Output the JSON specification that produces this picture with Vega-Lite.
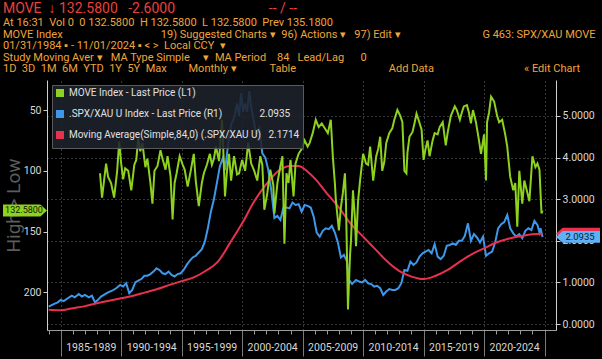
{
  "$schema": "https://vega.github.io/schema/vega-lite/v6.json",
  "width": 509,
  "height": 250,
  "autosize": {"type": "none"},
  "padding": {"left": 47, "top": 80, "right": 46, "bottom": 29},
  "background": "#000000",
  "config": {
    "view": {"stroke": null},
    "font": "Liberation Sans Narrow, Roboto, sans-serif",
    "legend": {
      "title": null,
      "orient": "top-left",
      "offset": 5,
      "fillColor": "rgba(30,34,44,0.88)",
      "strokeColor": "#5a5a5a",
      "padding": 3,
      "rowPadding": 1,
      "symbolType": "square",
      "symbolSize": 16,
      "symbolStrokeWidth": 4,
      "labelColor": "#e0e0e0",
      "labelFontSize": 10,
      "labelLimit": 400
    }
  },
  "title": {
    "text": "MOVE\u00a0\u00a0↓ 132.5800\u00a0\u00a0\u00a0-2.6000\u00a0\u00a0\u00a0\u00a0\u00a0\u00a0\u00a0\u00a0\u00a0\u00a0\u00a0\u00a0\u00a0\u00a0\u00a0\u00a0\u00a0\u00a0\u00a0\u00a0\u00a0\u00a0\u00a0\u00a0\u00a0\u00a0\u00a0-- / --",
    "subtitle": [
      "\u00a0\u00a0At 16:31\u00a0\u00a0Vol 0\u00a0\u00a00 132.5800\u00a0\u00a0H 132.5800\u00a0\u00a0L 132.5800\u00a0\u00a0Prev 135.1800",
      "MOVE Index\u00a0\u00a0\u00a0\u00a0\u00a0\u00a0\u00a0\u00a0\u00a0\u00a0\u00a0\u00a0\u00a0\u00a0\u00a0\u00a0\u00a0\u00a0\u00a0\u00a0\u00a0\u00a0\u00a0\u00a0\u00a0\u00a0\u00a0\u00a0\u00a0\u00a0\u00a0\u00a0\u00a0\u00a0\u00a0\u00a019) Suggested Charts ▾\u00a0\u00a096) Actions ▾\u00a0\u00a0\u00a097) Edit ▾\u00a0\u00a0\u00a0\u00a0\u00a0\u00a0\u00a0\u00a0\u00a0\u00a0\u00a0\u00a0\u00a0\u00a0\u00a0\u00a0\u00a0\u00a0\u00a0\u00a0\u00a0\u00a0\u00a0\u00a0\u00a0\u00a0\u00a0\u00a0\u00a0\u00a0G 463: SPX/XAU MOVE",
      "01/31/1984 ▪ - 11/01/2024 ▪ < >\u00a0\u00a0Local CCY\u00a0\u00a0▾",
      "Study\u00a0Moving Aver ▾\u00a0\u00a0\u00a0MA Type\u00a0Simple\u00a0\u00a0\u00a0\u00a0\u00a0▾\u00a0\u00a0MA Period\u00a0\u00a0\u00a0\u00a084\u00a0\u00a0\u00a0Lead/Lag\u00a0\u00a0\u00a0\u00a0\u00a0\u00a00",
      "1D\u00a0\u00a03D\u00a0\u00a01M\u00a0\u00a06M\u00a0\u00a0YTD\u00a0\u00a01Y\u00a0\u00a05Y\u00a0\u00a0Max\u00a0\u00a0\u00a0\u00a0\u00a0\u00a0\u00a0\u00a0Monthly ▾\u00a0\u00a0\u00a0\u00a0\u00a0\u00a0\u00a0\u00a0\u00a0\u00a0\u00a0\u00a0Table\u00a0\u00a0\u00a0\u00a0\u00a0\u00a0\u00a0\u00a0\u00a0\u00a0\u00a0\u00a0\u00a0\u00a0\u00a0\u00a0\u00a0\u00a0\u00a0\u00a0\u00a0\u00a0\u00a0\u00a0\u00a0\u00a0\u00a0\u00a0\u00a0\u00a0\u00a0\u00a0\u00a0\u00a0Add Data\u00a0\u00a0\u00a0\u00a0\u00a0\u00a0\u00a0\u00a0\u00a0\u00a0\u00a0\u00a0\u00a0\u00a0\u00a0\u00a0\u00a0\u00a0\u00a0\u00a0\u00a0\u00a0\u00a0\u00a0\u00a0\u00a0\u00a0\u00a0\u00a0\u00a0\u00a0\u00a0\u00a0« Edit Chart"
    ],
    "anchor": "start",
    "frame": "group",
    "dx": -44,
    "offset": 6,
    "limit": 600,
    "fontSize": 14,
    "fontWeight": "normal",
    "color": "#e8413c",
    "subtitleFontSize": 11,
    "subtitleColor": "#f0a43a",
    "subtitleLineHeight": 11.5,
    "subtitlePadding": 1
  },
  "datasets": {
    "move": [
      {"d": "1988-04", "v": 102}, {"d": "1988-06", "v": 122}, {"d": "1988-08", "v": 108}, {"d": "1988-10", "v": 94}, {"d": "1988-12", "v": 105},
      {"d": "1989-03", "v": 110}, {"d": "1989-06", "v": 122}, {"d": "1989-09", "v": 100}, {"d": "1989-11", "v": 76},
      {"d": "1990-01", "v": 94}, {"d": "1990-03", "v": 107}, {"d": "1990-05", "v": 98}, {"d": "1990-08", "v": 100}, {"d": "1990-11", "v": 116},
      {"d": "1991-02", "v": 95}, {"d": "1991-04", "v": 91}, {"d": "1991-06", "v": 73}, {"d": "1991-08", "v": 84}, {"d": "1991-10", "v": 77},
      {"d": "1992-01", "v": 97}, {"d": "1992-03", "v": 90}, {"d": "1992-06", "v": 110}, {"d": "1992-08", "v": 127}, {"d": "1992-10", "v": 100},
      {"d": "1993-01", "v": 96}, {"d": "1993-04", "v": 83}, {"d": "1993-06", "v": 90}, {"d": "1993-09", "v": 99}, {"d": "1993-11", "v": 88},
      {"d": "1994-02", "v": 105}, {"d": "1994-04", "v": 140}, {"d": "1994-06", "v": 110}, {"d": "1994-08", "v": 102}, {"d": "1994-11", "v": 88},
      {"d": "1995-02", "v": 95}, {"d": "1995-04", "v": 99}, {"d": "1995-07", "v": 113}, {"d": "1995-10", "v": 100},
      {"d": "1996-01", "v": 86}, {"d": "1996-03", "v": 108}, {"d": "1996-06", "v": 129}, {"d": "1996-09", "v": 110}, {"d": "1996-11", "v": 102},
      {"d": "1997-02", "v": 95}, {"d": "1997-05", "v": 86}, {"d": "1997-07", "v": 95}, {"d": "1997-09", "v": 90}, {"d": "1997-11", "v": 80},
      {"d": "1998-02", "v": 92}, {"d": "1998-05", "v": 58}, {"d": "1998-06", "v": 75}, {"d": "1998-08", "v": 121}, {"d": "1998-10", "v": 100}, {"d": "1998-12", "v": 86},
      {"d": "1999-02", "v": 108}, {"d": "1999-05", "v": 88}, {"d": "1999-08", "v": 103}, {"d": "1999-10", "v": 102},
      {"d": "2000-01", "v": 91}, {"d": "2000-04", "v": 100}, {"d": "2000-07", "v": 77}, {"d": "2000-10", "v": 94},
      {"d": "2001-01", "v": 100}, {"d": "2001-04", "v": 108}, {"d": "2001-07", "v": 88}, {"d": "2001-09", "v": 95}, {"d": "2001-11", "v": 132},
      {"d": "2002-02", "v": 118}, {"d": "2002-05", "v": 99}, {"d": "2002-08", "v": 112}, {"d": "2002-09", "v": 135}, {"d": "2002-12", "v": 110},
      {"d": "2003-03", "v": 96}, {"d": "2003-05", "v": 88}, {"d": "2003-07", "v": 160}, {"d": "2003-09", "v": 102}, {"d": "2003-11", "v": 110},
      {"d": "2004-01", "v": 91}, {"d": "2004-04", "v": 121}, {"d": "2004-06", "v": 94}, {"d": "2004-09", "v": 86}, {"d": "2004-12", "v": 82},
      {"d": "2005-03", "v": 75}, {"d": "2005-06", "v": 80}, {"d": "2005-08", "v": 77}, {"d": "2005-11", "v": 69},
      {"d": "2006-02", "v": 58}, {"d": "2006-05", "v": 64}, {"d": "2006-08", "v": 61}, {"d": "2006-11", "v": 65},
      {"d": "2007-02", "v": 69}, {"d": "2007-05", "v": 58}, {"d": "2007-07", "v": 88}, {"d": "2007-09", "v": 110}, {"d": "2007-10", "v": 124},
      {"d": "2008-01", "v": 149}, {"d": "2008-03", "v": 130}, {"d": "2008-05", "v": 118}, {"d": "2008-07", "v": 102}, {"d": "2008-08", "v": 125}, {"d": "2008-10", "v": 214}, {"d": "2008-12", "v": 170},
      {"d": "2009-01", "v": 157}, {"d": "2009-03", "v": 116}, {"d": "2009-05", "v": 140}, {"d": "2009-06", "v": 162}, {"d": "2009-08", "v": 125}, {"d": "2009-10", "v": 108},
      {"d": "2010-01", "v": 86}, {"d": "2010-04", "v": 94}, {"d": "2010-06", "v": 95}, {"d": "2010-08", "v": 80}, {"d": "2010-11", "v": 108},
      {"d": "2011-02", "v": 88}, {"d": "2011-04", "v": 82}, {"d": "2011-06", "v": 72}, {"d": "2011-08", "v": 100}, {"d": "2011-10", "v": 93}, {"d": "2011-12", "v": 77},
      {"d": "2012-03", "v": 69}, {"d": "2012-06", "v": 65}, {"d": "2012-08", "v": 58}, {"d": "2012-11", "v": 50},
      {"d": "2013-02", "v": 55}, {"d": "2013-04", "v": 60}, {"d": "2013-06", "v": 100}, {"d": "2013-08", "v": 102}, {"d": "2013-09", "v": 85}, {"d": "2013-11", "v": 72},
      {"d": "2014-02", "v": 68}, {"d": "2014-04", "v": 61}, {"d": "2014-06", "v": 53}, {"d": "2014-08", "v": 58}, {"d": "2014-11", "v": 66},
      {"d": "2015-01", "v": 91}, {"d": "2015-03", "v": 82}, {"d": "2015-05", "v": 75}, {"d": "2015-07", "v": 88}, {"d": "2015-10", "v": 75}, {"d": "2015-12", "v": 69},
      {"d": "2016-03", "v": 70}, {"d": "2016-05", "v": 64}, {"d": "2016-08", "v": 60}, {"d": "2016-11", "v": 79},
      {"d": "2017-01", "v": 68}, {"d": "2017-04", "v": 55}, {"d": "2017-08", "v": 47}, {"d": "2017-10", "v": 50},
      {"d": "2018-01", "v": 58}, {"d": "2018-03", "v": 52}, {"d": "2018-05", "v": 47}, {"d": "2018-08", "v": 46}, {"d": "2018-10", "v": 52}, {"d": "2018-12", "v": 61},
      {"d": "2019-02", "v": 50}, {"d": "2019-05", "v": 60}, {"d": "2019-08", "v": 75}, {"d": "2019-10", "v": 86},
      {"d": "2020-01", "v": 70}, {"d": "2020-03", "v": 108}, {"d": "2020-04", "v": 60}, {"d": "2020-06", "v": 52}, {"d": "2020-08", "v": 39}, {"d": "2020-11", "v": 43},
      {"d": "2021-02", "v": 55}, {"d": "2021-04", "v": 60}, {"d": "2021-07", "v": 58}, {"d": "2021-10", "v": 70}, {"d": "2021-12", "v": 80},
      {"d": "2022-03", "v": 105}, {"d": "2022-06", "v": 116}, {"d": "2022-08", "v": 110}, {"d": "2022-10", "v": 146}, {"d": "2022-12", "v": 100},
      {"d": "2023-03", "v": 127}, {"d": "2023-05", "v": 108}, {"d": "2023-08", "v": 118}, {"d": "2023-10", "v": 125},
      {"d": "2024-01", "v": 88}, {"d": "2024-04", "v": 97}, {"d": "2024-06", "v": 94}, {"d": "2024-08", "v": 99}, {"d": "2024-10", "v": 135}, {"d": "2024-11", "v": 132.58}
    ],
    "spx": [
      {"d": "1984-01", "v": 0.42}, {"d": "1984-06", "v": 0.48}, {"d": "1984-10", "v": 0.52},
      {"d": "1985-01", "v": 0.58}, {"d": "1985-04", "v": 0.55}, {"d": "1985-08", "v": 0.62}, {"d": "1985-12", "v": 0.68},
      {"d": "1986-03", "v": 0.64}, {"d": "1986-07", "v": 0.72}, {"d": "1986-10", "v": 0.66},
      {"d": "1987-01", "v": 0.70}, {"d": "1987-05", "v": 0.64}, {"d": "1987-08", "v": 0.68}, {"d": "1987-11", "v": 0.52},
      {"d": "1988-02", "v": 0.58}, {"d": "1988-05", "v": 0.66}, {"d": "1988-09", "v": 0.72}, {"d": "1988-12", "v": 0.76},
      {"d": "1989-04", "v": 0.80}, {"d": "1989-08", "v": 0.86}, {"d": "1989-12", "v": 0.94},
      {"d": "1990-03", "v": 0.90}, {"d": "1990-06", "v": 0.98}, {"d": "1990-09", "v": 0.74}, {"d": "1990-12", "v": 0.82},
      {"d": "1991-03", "v": 1.00}, {"d": "1991-06", "v": 1.04}, {"d": "1991-09", "v": 1.08}, {"d": "1991-12", "v": 1.16},
      {"d": "1992-03", "v": 1.16}, {"d": "1992-06", "v": 1.20}, {"d": "1992-09", "v": 1.26}, {"d": "1992-12", "v": 1.34},
      {"d": "1993-03", "v": 1.30}, {"d": "1993-06", "v": 1.22}, {"d": "1993-09", "v": 1.20}, {"d": "1993-12", "v": 1.26},
      {"d": "1994-03", "v": 1.18}, {"d": "1994-06", "v": 1.14}, {"d": "1994-09", "v": 1.20}, {"d": "1994-12", "v": 1.22},
      {"d": "1995-03", "v": 1.30}, {"d": "1995-06", "v": 1.42}, {"d": "1995-09", "v": 1.52}, {"d": "1995-12", "v": 1.60},
      {"d": "1996-03", "v": 1.64}, {"d": "1996-06", "v": 1.72}, {"d": "1996-09", "v": 1.80}, {"d": "1996-12", "v": 1.98},
      {"d": "1997-03", "v": 2.30}, {"d": "1997-06", "v": 2.70}, {"d": "1997-09", "v": 3.00}, {"d": "1997-12", "v": 3.40},
      {"d": "1998-03", "v": 3.80}, {"d": "1998-06", "v": 4.00}, {"d": "1998-08", "v": 3.70}, {"d": "1998-11", "v": 4.30},
      {"d": "1999-02", "v": 4.80}, {"d": "1999-05", "v": 4.95}, {"d": "1999-08", "v": 5.30}, {"d": "1999-10", "v": 5.00}, {"d": "1999-12", "v": 5.55},
      {"d": "2000-02", "v": 5.10}, {"d": "2000-04", "v": 5.30}, {"d": "2000-06", "v": 5.10}, {"d": "2000-08", "v": 5.60}, {"d": "2000-10", "v": 5.20}, {"d": "2000-12", "v": 4.95},
      {"d": "2001-03", "v": 4.55}, {"d": "2001-06", "v": 4.70}, {"d": "2001-09", "v": 4.10}, {"d": "2001-12", "v": 4.00},
      {"d": "2002-03", "v": 3.70}, {"d": "2002-06", "v": 3.20}, {"d": "2002-09", "v": 2.55}, {"d": "2002-12", "v": 2.60},
      {"d": "2003-03", "v": 2.50}, {"d": "2003-06", "v": 2.80}, {"d": "2003-09", "v": 2.80}, {"d": "2003-12", "v": 2.78},
      {"d": "2004-03", "v": 2.92}, {"d": "2004-06", "v": 2.86}, {"d": "2004-09", "v": 2.88}, {"d": "2004-12", "v": 2.70},
      {"d": "2005-03", "v": 2.86}, {"d": "2005-06", "v": 2.84}, {"d": "2005-09", "v": 2.80}, {"d": "2005-12", "v": 2.58},
      {"d": "2006-03", "v": 2.20}, {"d": "2006-06", "v": 2.10}, {"d": "2006-09", "v": 2.24}, {"d": "2006-12", "v": 2.30},
      {"d": "2007-03", "v": 2.28}, {"d": "2007-06", "v": 2.36}, {"d": "2007-09", "v": 2.20}, {"d": "2007-12", "v": 1.96},
      {"d": "2008-03", "v": 1.60}, {"d": "2008-06", "v": 1.66}, {"d": "2008-09", "v": 1.50}, {"d": "2008-11", "v": 1.06},
      {"d": "2009-02", "v": 0.96}, {"d": "2009-06", "v": 1.06}, {"d": "2009-09", "v": 1.02}, {"d": "2009-12", "v": 1.00},
      {"d": "2010-03", "v": 1.06}, {"d": "2010-06", "v": 0.98}, {"d": "2010-09", "v": 0.96}, {"d": "2010-12", "v": 0.90},
      {"d": "2011-03", "v": 0.92}, {"d": "2011-06", "v": 0.86}, {"d": "2011-09", "v": 0.70}, {"d": "2011-12", "v": 0.78},
      {"d": "2012-03", "v": 0.84}, {"d": "2012-06", "v": 0.82}, {"d": "2012-09", "v": 0.82}, {"d": "2012-12", "v": 0.86},
      {"d": "2013-03", "v": 0.98}, {"d": "2013-06", "v": 1.30}, {"d": "2013-09", "v": 1.28}, {"d": "2013-12", "v": 1.50},
      {"d": "2014-03", "v": 1.42}, {"d": "2014-06", "v": 1.48}, {"d": "2014-09", "v": 1.62}, {"d": "2014-12", "v": 1.70},
      {"d": "2015-03", "v": 1.74}, {"d": "2015-06", "v": 1.78}, {"d": "2015-09", "v": 1.70}, {"d": "2015-12", "v": 1.92},
      {"d": "2016-03", "v": 1.62}, {"d": "2016-06", "v": 1.56}, {"d": "2016-09", "v": 1.64}, {"d": "2016-12", "v": 1.88},
      {"d": "2017-03", "v": 1.90}, {"d": "2017-06", "v": 1.94}, {"d": "2017-09", "v": 1.90}, {"d": "2017-12", "v": 2.00},
      {"d": "2018-03", "v": 2.00}, {"d": "2018-06", "v": 2.12}, {"d": "2018-09", "v": 2.42}, {"d": "2018-12", "v": 2.00},
      {"d": "2019-03", "v": 2.16}, {"d": "2019-06", "v": 2.08}, {"d": "2019-09", "v": 1.96}, {"d": "2019-12", "v": 2.10},
      {"d": "2020-03", "v": 1.64}, {"d": "2020-06", "v": 1.70}, {"d": "2020-09", "v": 1.74}, {"d": "2020-12", "v": 1.96},
      {"d": "2021-03", "v": 2.30}, {"d": "2021-06", "v": 2.40}, {"d": "2021-09", "v": 2.45}, {"d": "2021-12", "v": 2.62},
      {"d": "2022-03", "v": 2.30}, {"d": "2022-06", "v": 2.18}, {"d": "2022-09", "v": 2.10}, {"d": "2022-12", "v": 2.16},
      {"d": "2023-03", "v": 2.06}, {"d": "2023-06", "v": 2.24}, {"d": "2023-09", "v": 2.30}, {"d": "2023-12", "v": 2.26},
      {"d": "2024-03", "v": 2.48}, {"d": "2024-06", "v": 2.38}, {"d": "2024-08", "v": 2.20}, {"d": "2024-09", "v": 2.30}, {"d": "2024-11", "v": 2.0935}
    ],
    "ma": [
      {"d": "1984-01", "v": 0.34}, {"d": "1985-01", "v": 0.33}, {"d": "1986-01", "v": 0.38}, {"d": "1987-01", "v": 0.43},
      {"d": "1988-01", "v": 0.50}, {"d": "1989-01", "v": 0.56}, {"d": "1990-01", "v": 0.62}, {"d": "1991-01", "v": 0.68},
      {"d": "1992-01", "v": 0.76}, {"d": "1993-01", "v": 0.84}, {"d": "1994-01", "v": 0.94}, {"d": "1995-01", "v": 1.03},
      {"d": "1996-01", "v": 1.12}, {"d": "1997-01", "v": 1.28}, {"d": "1998-01", "v": 1.50}, {"d": "1999-01", "v": 1.95},
      {"d": "2000-01", "v": 2.42}, {"d": "2001-01", "v": 2.95}, {"d": "2002-01", "v": 3.36}, {"d": "2003-01", "v": 3.68},
      {"d": "2004-01", "v": 3.80}, {"d": "2004-09", "v": 3.80}, {"d": "2005-06", "v": 3.66}, {"d": "2006-01", "v": 3.50},
      {"d": "2007-01", "v": 3.14}, {"d": "2008-01", "v": 2.80}, {"d": "2009-01", "v": 2.40}, {"d": "2010-01", "v": 2.10},
      {"d": "2011-01", "v": 1.80}, {"d": "2012-01", "v": 1.50}, {"d": "2013-01", "v": 1.27}, {"d": "2014-01", "v": 1.14},
      {"d": "2015-01", "v": 1.08}, {"d": "2016-01", "v": 1.16}, {"d": "2017-01", "v": 1.30}, {"d": "2018-01", "v": 1.50},
      {"d": "2019-01", "v": 1.68}, {"d": "2020-01", "v": 1.82}, {"d": "2021-01", "v": 1.96}, {"d": "2022-01", "v": 2.05},
      {"d": "2023-01", "v": 2.11}, {"d": "2024-01", "v": 2.16}, {"d": "2024-11", "v": 2.1714}
    ]
  },
  "layer": [
    {
      "layer": [
        {
          "data": {"name": "spx"},
          "mark": {"type": "line", "strokeWidth": 2, "clip": true},
          "encoding": {
            "x": {
              "field": "d", "type": "temporal",
              "scale": {"type": "utc", "domain": [{"year": 1983, "month": 11, "date": 13, "utc": true}, {"year": 2025, "month": 12, "date": 13, "utc": true}]},
              "axis": {"orient": "bottom", "tickCount": {"interval": "year", "step": 1}, "tickSize": 4, "labels": false, "grid": false, "domainColor": "#9a9a9a", "tickColor": "#9a9a9a", "title": null}
            },
            "y": {
              "field": "v", "type": "quantitative",
              "scale": {"domain": [-0.144, 5.865], "nice": false, "zero": false},
              "axis": {
                "orient": "right",
                "values": [0, 0.5, 1, 1.5, 2, 2.5, 3, 3.5, 4, 4.5, 5, 5.5],
                "labelExpr": "datum.value % 1 == 0 ? format(datum.value, '.4f') : ''",
                "labelOverlap": false,
                "labelColor": "#d8d8d8",
                "labelFontSize": 10.5,
                "labelPadding": 2,
                "tickSize": 4,
                "tickColor": "#cfcfcf",
                "domainColor": "#cfcfcf",
                "grid": true,
                "gridDash": [1, 3],
                "gridColor": "#8a8a8a",
                "gridOpacity": {"condition": {"test": "datum.value % 1 == 0", "value": 0.8}, "value": 0},
                "title": null
              }
            },
            "color": {"datum": "SPX"}
          }
        },
        {
          "data": {"name": "ma"},
          "mark": {"type": "line", "strokeWidth": 2, "interpolate": "monotone", "clip": true},
          "encoding": {
            "x": {"field": "d", "type": "temporal"},
            "y": {"field": "v", "type": "quantitative"},
            "color": {"datum": "MA"}
          }
        },
        {
          "data": {"values": [{"s": "MA", "v": 2.1714}, {"s": "SPX", "v": 2.0935}]},
          "mark": {"type": "point", "shape": "M0,0L0.3,-0.27L2,-0.27L2,0.27L0.3,0.27Z", "filled": true, "size": 1936, "opacity": 1, "strokeWidth": 0},
          "encoding": {
            "x": {"datum": {"year": 2025, "month": 12, "date": 13, "utc": true}, "type": "temporal"},
            "y": {"field": "v", "type": "quantitative"},
            "fill": {"condition": {"test": "datum.s == 'SPX'", "value": "#5fb0f5"}, "value": "#e8304f"}
          }
        },
        {
          "data": {"values": [{"s": "SPX", "v": 2.0935}]},
          "mark": {"type": "text", "dx": 24, "align": "center", "baseline": "middle", "fontSize": 9.5, "color": "#0a1a30"},
          "encoding": {
            "x": {"datum": {"year": 2025, "month": 12, "date": 13, "utc": true}, "type": "temporal"},
            "y": {"field": "v", "type": "quantitative"},
            "text": {"field": "v", "type": "quantitative", "format": ".4f"}
          }
        }
      ]
    },
    {
      "layer": [
        {
          "data": {"name": "move"},
          "mark": {"type": "line", "strokeWidth": 2, "clip": true},
          "encoding": {
            "x": {
              "field": "d", "type": "temporal",
              "scale": {"type": "utc", "domain": [{"year": 1983, "month": 11, "date": 13, "utc": true}, {"year": 2025, "month": 12, "date": 13, "utc": true}]},
              "axis": {
                "orient": "bottom",
                "values": [
                  {"year": 1985, "utc": true}, {"year": 1990, "utc": true}, {"year": 1995, "utc": true},
                  {"year": 2000, "utc": true}, {"year": 2005, "utc": true}, {"year": 2010, "utc": true},
                  {"year": 2015, "utc": true}, {"year": 2020, "utc": true}, {"year": 2025, "utc": true}
                ],
                "tickSize": 26,
                "tickColor": "#7a7a7a",
                "domainColor": "#9a9a9a",
                "grid": true,
                "gridDash": [1, 3],
                "gridColor": "#8a8a8a",
                "gridOpacity": 0.8,
                "labelExpr": "utcyear(datum.value) < 2025 ? utcyear(datum.value) + '-' + (utcyear(datum.value) + 4) : ''",
                "labelOffset": 30,
                "labelPadding": -14,
                "labelColor": "#d8d8d8",
                "labelFontSize": 10.5,
                "labelOverlap": false,
                "labelBound": false,
                "labelFlush": false,
                "title": null
              }
            },
            "y": {
              "field": "v", "type": "quantitative",
              "scale": {"domain": [25.3, 230.9], "reverse": true, "nice": false, "zero": false},
              "axis": {
                "orient": "left",
                "values": [50, 75, 100, 125, 150, 175, 200, 225],
                "labelExpr": "datum.value % 50 == 0 ? datum.label : ''",
                "labelOverlap": false,
                "labelColor": "#d8d8d8",
                "labelFontSize": 10.5,
                "labelPadding": 2,
                "tickSize": 4,
                "tickColor": "#cfcfcf",
                "domainColor": "#cfcfcf",
                "grid": false,
                "title": "High > Low",
                "titleFontSize": 19,
                "titleColor": "#5c5c5c",
                "titleFontWeight": "normal",
                "titlePadding": 0
              }
            },
            "color": {
              "datum": "MOVE",
              "scale": {"domain": ["MOVE", "SPX", "MA"], "range": ["#8ed11f", "#3f97ea", "#e8304f"]},
              "legend": {
                "labelExpr": "datum.value == 'MOVE' ? 'MOVE Index - Last Price (L1)' : datum.value == 'SPX' ? '.SPX/XAU U Index - Last Price (R1)\u00a0\u00a0\u00a0\u00a0\u00a0\u00a0\u00a0\u00a0\u00a0\u00a0\u00a0\u00a0\u00a0\u00a0\u00a02.0935' : 'Moving Average(Simple,84,0) (.SPX/XAU U)\u00a0\u00a0\u00a02.1714'"
              }
            }
          }
        },
        {
          "data": {"values": [{"v": 132.58}]},
          "mark": {"type": "point", "shape": "M-2,-0.27L-0.3,-0.27L0,0L-0.3,0.27L-2,0.27Z", "filled": true, "size": 1936, "opacity": 1, "strokeWidth": 0, "fill": "#8ed11f"},
          "encoding": {
            "x": {"datum": {"year": 1983, "month": 11, "date": 13, "utc": true}, "type": "temporal"},
            "y": {"field": "v", "type": "quantitative"}
          }
        },
        {
          "data": {"values": [{"v": 132.58}]},
          "mark": {"type": "text", "dx": -23, "align": "center", "baseline": "middle", "fontSize": 9, "color": "#102000"},
          "encoding": {
            "x": {"datum": {"year": 1983, "month": 11, "date": 13, "utc": true}, "type": "temporal"},
            "y": {"field": "v", "type": "quantitative"},
            "text": {"field": "v", "type": "quantitative", "format": ".4f"}
          }
        }
      ]
    }
  ],
  "resolve": {"scale": {"x": "independent", "y": "independent"}}
}
